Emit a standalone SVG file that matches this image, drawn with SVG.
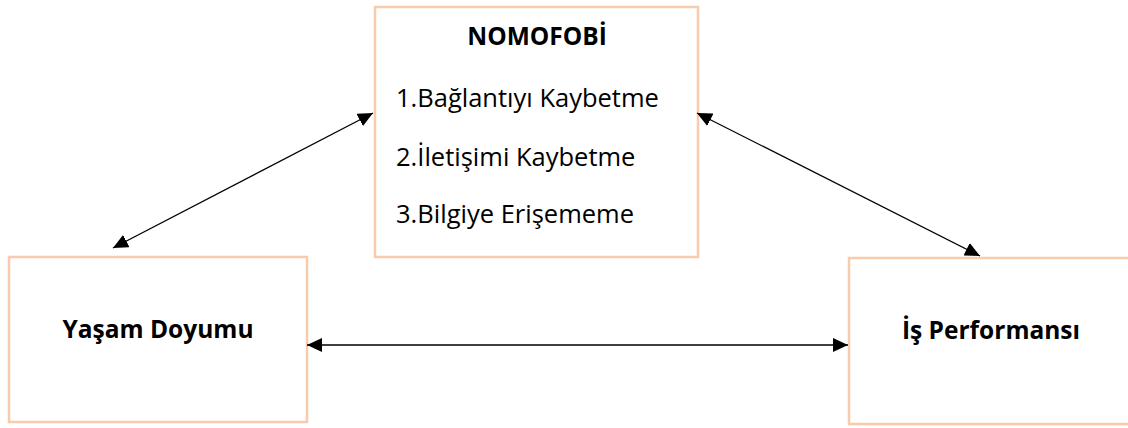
<svg xmlns="http://www.w3.org/2000/svg" width="1128" height="428" viewBox="0 0 1128 428">
<style>
.box{fill:#fff;stroke:#F8CBAD;stroke-width:2.5}
.t{font-family:"Open Sans","Liberation Sans",sans-serif;font-size:25.5px;fill:#000}
.b{font-weight:bold;text-anchor:middle;font-size:24.5px}
.c{stroke:#000;stroke-width:1.3;fill:none;marker-start:url(#ah);marker-end:url(#ah)}
</style>
<defs>
<marker id="ah" markerUnits="userSpaceOnUse" markerWidth="16" markerHeight="14" refX="15" refY="7" orient="auto-start-reverse" viewBox="0 0 16 14">
<path d="M0,0 L15,7 L0,14 Z" fill="#000"/>
</marker>
</defs>
<rect width="1128" height="428" fill="#fff"/>
<g id="nomofobi">
<rect class="box" x="375" y="7" width="323" height="250"/>
<text class="t b" x="537" y="45">NOMOFOBİ</text>
<text class="t" x="396" y="107">1.Bağlantıyı Kaybetme</text>
<text class="t" x="396" y="166">2.İletişimi Kaybetme</text>
<text class="t" x="396" y="223">3.Bilgiye Erişememe</text>
</g>
<g id="yasam">
<rect class="box" x="9" y="257" width="298" height="165"/>
<text class="t b" x="158" y="338">Yaşam Doyumu</text>
</g>
<g id="is">
<rect class="box" x="849" y="258" width="290" height="166"/>
<text class="t b" x="991" y="339">İş Performansı</text>
</g>
<g id="connectors">
<line class="c" x1="113" y1="248" x2="373" y2="113"/>
<line class="c" x1="697" y1="113" x2="980" y2="256"/>
<line class="c" x1="307" y1="345" x2="848" y2="345"/>
</g>
</svg>
